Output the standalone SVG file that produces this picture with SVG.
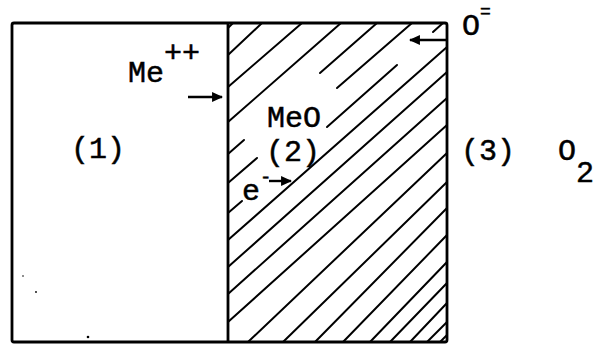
<svg xmlns="http://www.w3.org/2000/svg" width="596" height="345" viewBox="0 0 596 345">
<style>
  .frame{fill:none;stroke:#000;stroke-width:2.8;stroke-linejoin:round}
  .hatch line{stroke:#000;stroke-width:2;stroke-linecap:round}
  .lbl{font-family:"Liberation Mono","Courier New",monospace;font-size:30px;fill:#000;stroke:#000;stroke-width:0.5}
  .arr{stroke:#000;stroke-width:2.4;fill:none}
</style>
<defs>
  <marker id="ah" viewBox="0 0 10 10" refX="9" refY="5" markerWidth="4.6" markerHeight="4.6" orient="auto" markerUnits="strokeWidth">
    <path d="M0,0.5 L10,5 L0,9.5 Z" fill="#000"/>
  </marker>
</defs>
<rect width="596" height="345" fill="#fff"/>

<g id="hatch" class="hatch">
  <line x1="228" y1="28" x2="233" y2="23"/>
  <line x1="228" y1="55" x2="262" y2="23"/>
  <line x1="228" y1="87" x2="302" y2="23"/>
  <line x1="228" y1="122" x2="341" y2="23"/>
  <line x1="228" y1="154" x2="244" y2="140"/>
  <line x1="320" y1="73" x2="377" y2="23"/>
  <line x1="228" y1="183" x2="257" y2="158"/>
  <line x1="337" y1="88" x2="412" y2="23"/>
  <line x1="228" y1="213" x2="242" y2="201"/>
  <line x1="327" y1="127" x2="397" y2="65"/>
  <line x1="433" y1="32" x2="443" y2="23"/>
  <line x1="228" y1="240" x2="447" y2="47"/>
  <line x1="228" y1="267" x2="447" y2="72"/>
  <line x1="228" y1="294" x2="447" y2="98"/>
  <line x1="228" y1="322" x2="447" y2="125"/>
  <line x1="248" y1="342" x2="447" y2="153"/>
  <line x1="283" y1="342" x2="447" y2="182"/>
  <line x1="315" y1="342" x2="447" y2="208"/>
  <line x1="343" y1="342" x2="447" y2="235"/>
  <line x1="370" y1="342" x2="447" y2="262"/>
  <line x1="390" y1="342" x2="447" y2="283"/>
  <line x1="410" y1="342" x2="447" y2="303"/>
  <line x1="427" y1="342" x2="447" y2="322"/>
  <line x1="440" y1="342" x2="447" y2="335"/>
</g>

<g id="frame">
  <rect class="frame" x="12" y="23" width="435" height="319" rx="2"/>
  <line class="frame" x1="228" y1="23" x2="228" y2="342"/>
</g>

<g id="region1">
  <text class="lbl" x="98" y="158" text-anchor="middle">(1)</text>
  <circle cx="23" cy="276" r="0.8" fill="#000"/>
  <circle cx="36" cy="292" r="0.9" fill="#000"/>
  <circle cx="88" cy="337" r="1.3" fill="#000"/>
</g>

<g id="region2">
  <text class="lbl" x="267" y="127">MeO</text>
  <text class="lbl" x="293" y="161" text-anchor="middle">(2)</text>
</g>

<g id="region3">
  <text class="lbl" x="488" y="160" text-anchor="middle">(3)</text>
  <text class="lbl" x="558" y="160">O<tspan dy="22">2</tspan></text>
</g>

<g id="species">
  <text class="lbl" x="128" y="82">Me<tspan dy="-20">++</tspan></text>
  <text class="lbl" x="242" y="200">e<tspan dy="-17" font-size="19">-</tspan></text>
  <text class="lbl" x="462" y="35">O<tspan dy="-18" font-size="18">=</tspan></text>
</g>

<g id="connectors">
  <line class="arr" x1="188" y1="97" x2="222" y2="97" marker-end="url(#ah)"/>
  <line class="arr" x1="269" y1="181" x2="291" y2="181" marker-end="url(#ah)"/>
  <line class="arr" x1="446" y1="40" x2="410" y2="40" marker-end="url(#ah)"/>
</g>
</svg>
